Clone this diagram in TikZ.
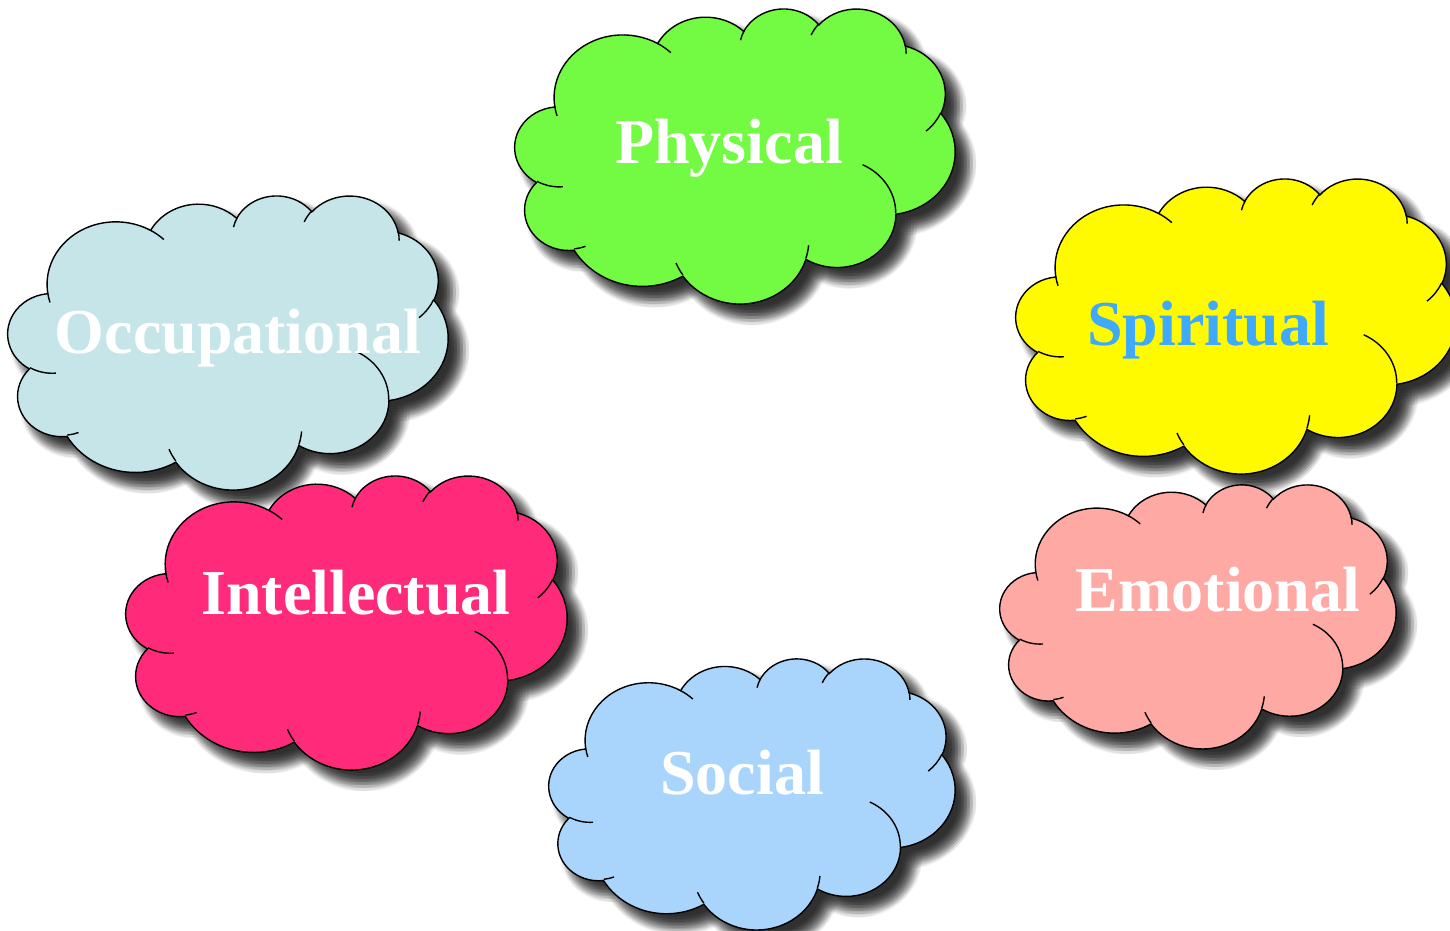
\documentclass[tikz,border=0pt]{standalone}
\usepackage{fontspec}
\setmainfont{Liberation Serif}
\definecolor{cPhys}{RGB}{115,250,66}
\definecolor{cSpir}{RGB}{255,250,0}
\definecolor{cSpirT}{RGB}{64,170,250}
\definecolor{cOcc}{RGB}{197,229,232}
\definecolor{cInt}{RGB}{255,43,122}
\definecolor{cEmo}{RGB}{255,169,164}
\definecolor{cSoc}{RGB}{169,213,253}
\newcommand{\cloudshape}{(39.00,288.30)
 arc[start angle=-172.254,end angle=-300.366,x radius=67.53,y radius=91.90]
 arc[start angle=152.021,end angle=45.437,x radius=53.33,y radius=72.67]
 arc[start angle=153.493,end angle=37.341,x radius=43.65,y radius=59.45]
 arc[start angle=139.706,end angle=10.212,x radius=48.57,y radius=65.95]
 arc[start angle=74.768,end angle=-23.213,x radius=53.33,y radius=72.73]
 arc[start angle=37.511,end angle=-81.862,x radius=67.75,y radius=92.20]
 arc[start angle=-0.4596,end angle=-121.979,x radius=57.85,y radius=78.67]
 arc[start angle=-16.843,end angle=-146.229,x radius=67.52,y radius=92.15]
 arc[start angle=-58.985,end angle=-150.179,x radius=77.20,y radius=105.43]
 arc[start angle=-83.307,end angle=-223.090,x radius=43.60,y radius=59.18]
 arc[start angle=-120.359,end angle=-264.112,x radius=43.45,y radius=59.45]
 -- cycle}
\newcommand{\cloudinner}{
 (46.93,170.23) arc[start angle=-85.546,end angle=-120.359,x radius=43.45,y radius=59.45]
 (69.28,83.01) arc[start angle=-68.236,end angle=-83.307,x radius=43.60,y radius=59.18]
 (164.78,41.10) arc[start angle=-146.229,end angle=-158.476,x radius=67.52,y radius=92.15]
 (288.27,84.49) arc[start angle=-4.737,end angle=-16.843,x radius=67.52,y radius=92.15]
 (341.29,202.46) arc[start angle=64.031,end angle=-0.4596,x radius=57.85,y radius=78.67]
 (417.98,278.46) arc[start angle=-23.213,end angle=-49.651,x radius=53.33,y radius=72.73]
 (383.24,377.74) arc[start angle=10.212,end angle=-0.8211,x radius=48.57,y radius=65.95]
 (290.78,392.48) arc[start angle=156.288,end angle=139.706,x radius=48.57,y radius=65.95]
 (221.41,384.80) arc[start angle=167.725,end angle=153.493,x radius=43.65,y radius=59.45]
 (140.00,380.08) arc[start angle=59.634,end angle=45.718,x radius=67.53,y radius=91.90]
 (41.27,274.11) arc[start angle=-163.194,end angle=-172.254,x radius=67.53,y radius=91.90]}
% #1 left, #2 top (image px), #3 width, #4 height, #5 fill colour
\newcommand{\drawcloud}[5]{%
  \pgfmathsetmacro\cloudsx{#3/432}%
  \pgfmathsetmacro\cloudsy{#4/432}%
  \pgfmathsetmacro\cloudoy{930-#2-#4}%
  \begin{scope}[shift={(#1pt,\cloudoy pt)}, x=\cloudsx pt, y=\cloudsy pt]
    \foreach \dx/\dy in {
        12/-3, 12/-6, 12/-9, 12/-12, 12/-15, 12/-18, 12/-21,
        9/-3, 9/-6, 9/-9, 9/-12, 9/-15, 9/-18, 9/-21,
        15/-3, 15/-6, 15/-9, 15/-12, 15/-15, 15/-18, 15/-21,
        6/-6, 6/-9, 6/-12, 6/-15, 6/-18,
        18/-6, 18/-9, 18/-12, 18/-15, 18/-18,
        3/-9, 3/-12, 3/-15,
        21/-9, 21/-12, 21/-15}
      {\fill[shadowlayer, shift={(\dx pt,\dy pt)}] \cloudshape;}
    \filldraw[cloudbody, fill=#5] \cloudshape;
    \draw[cloudline] \cloudinner;
  \end{scope}}
\tikzset{
  shadowlayer/.style={fill=black, opacity=0.04},
  cloudbody/.style={draw=black, line width=1.4pt},
  cloudline/.style={draw=black, line width=1.4pt},
  lbl/.style={anchor=base, inner sep=0pt, font=\fontsize{64}{64}\selectfont\bfseries}
}
\begin{document}
\begin{tikzpicture}[x=1pt, y=1pt]
  \useasboundingbox (0,0) rectangle (1450,930);
  \clip (0,0) rectangle (1450,930);
  \fill[white] (0,0) rectangle (1450,930);
  \drawcloud{515}{8}{440}{295}{cPhys}
  \drawcloud{8}{195}{440}{294}{cOcc}
  \drawcloud{1016}{178}{440}{295}{cSpir}
  \drawcloud{126}{475}{441}{294}{cInt}
  \drawcloud{1000}{484}{396}{264}{cEmo}
  \drawcloud{549}{658}{406}{271}{cSoc}
  \node[lbl, text=white] (physical) at (729,766) {Physical};
  \node[lbl, text=cSpirT] (spiritual) at (1208,584.3) {Spiritual};
  \node[lbl, text=white] (occupational) at (238,576) {Occupational};
  \node[lbl, text=white] (intellectual) at (356,316) {Intellectual};
  \node[lbl, text=white] (emotional) at (1218,318.3) {Emotional};
  \node[lbl, text=white] (social) at (742,136) {Social};
\end{tikzpicture}
\end{document}
